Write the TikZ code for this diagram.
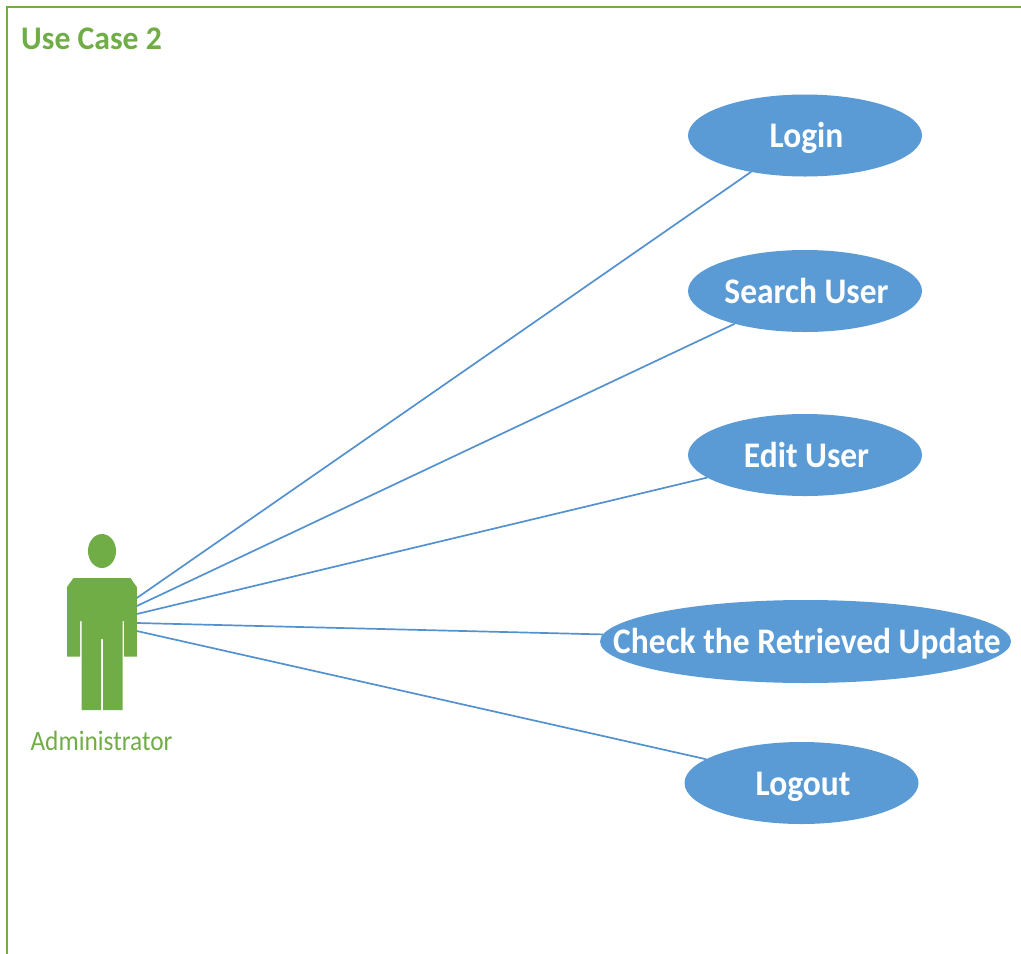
\documentclass[tikz,border=0pt]{standalone}
\usepackage{fontspec}
\setmainfont{Carlito}
\newfontfamily\ucbold[FakeStretch=0.93]{Carlito Bold}
\newfontfamily\uctitle[FakeStretch=0.96]{Carlito Bold}
\newfontfamily\ucreg[FakeStretch=0.905]{Carlito}
\definecolor{ucblue}{HTML}{5B9BD5}
\definecolor{ucline}{HTML}{5391CF}
\definecolor{ucgreen}{HTML}{70AD47}
\newcommand{\uctext}[1]{\smash{\makebox[0pt]{\hspace{3pt}\raisebox{-12pt}{#1}}}}
\tikzset{
  usecase/.style={ellipse,fill=ucblue,inner sep=0pt,outer sep=0pt,text=white,
    minimum width=234pt,minimum height=82pt,font=\ucbold\fontsize{36}{36}\selectfont},
  assoc/.style={draw=ucline,line width=1.7pt},
  greenlabel/.style={text=ucgreen,inner sep=0pt,anchor=base}
}
\usetikzlibrary{shapes.geometric}
\begin{document}
\begin{tikzpicture}[x=1pt,y=-1pt]
\useasboundingbox (0,0) rectangle (1021,954);
\draw[ucgreen,line width=2pt] (7,954) -- (7,6.5) -- (1021,6.5);
\node[greenlabel,anchor=base west] (title) at (21,49) {\uctitle\fontsize{33}{33}\selectfont Use Case 2};
% actor
\fill[ucgreen] (102,551) ellipse [x radius=14,y radius=17];
\fill[ucgreen] (73.5,578) -- (130.5,578) -- (136.8,587) -- (136.8,656.7) -- (124,656.7) -- (124,621) -- (122.5,621)
  -- (122.5,710) -- (103,710) -- (103,639) -- (101,639) -- (101,710) -- (81.5,710) -- (81.5,621) -- (80,621)
  -- (80,656.7) -- (67,656.7) -- (67,587) -- cycle;
\node[greenlabel] (actorlabel) at (101.5,750) {\ucreg\fontsize{28}{28}\selectfont Administrator};
\coordinate (a1) at (136.8,598);
\coordinate (a2) at (136.8,606);
\coordinate (a3) at (136.8,614);
\coordinate (a4) at (136.8,623);
\coordinate (a5) at (136.8,631);
% use cases
\node[usecase] (login) at (805,135.5) {\uctext{Login}};
\node[usecase] (search) at (805,291) {\uctext{Search User}};
\node[usecase] (edit) at (805,455) {\uctext{Edit User}};
\node[usecase,minimum width=411pt,minimum height=83pt] (check) at (805.5,641.5) {\uctext{Check the Retrieved Update}};
\node[usecase] (logout) at (801.5,783) {\uctext{Logout}};
\draw[assoc] (a1) -- (login.214.4);
\draw[assoc] (a2) -- (search.205.2);
\draw[assoc] (a3) -- (edit.193.2);
\draw[assoc] (a4) -- (check.178.3);
\draw[assoc] (a5) -- (logout.166.9);
\end{tikzpicture}
\end{document}
